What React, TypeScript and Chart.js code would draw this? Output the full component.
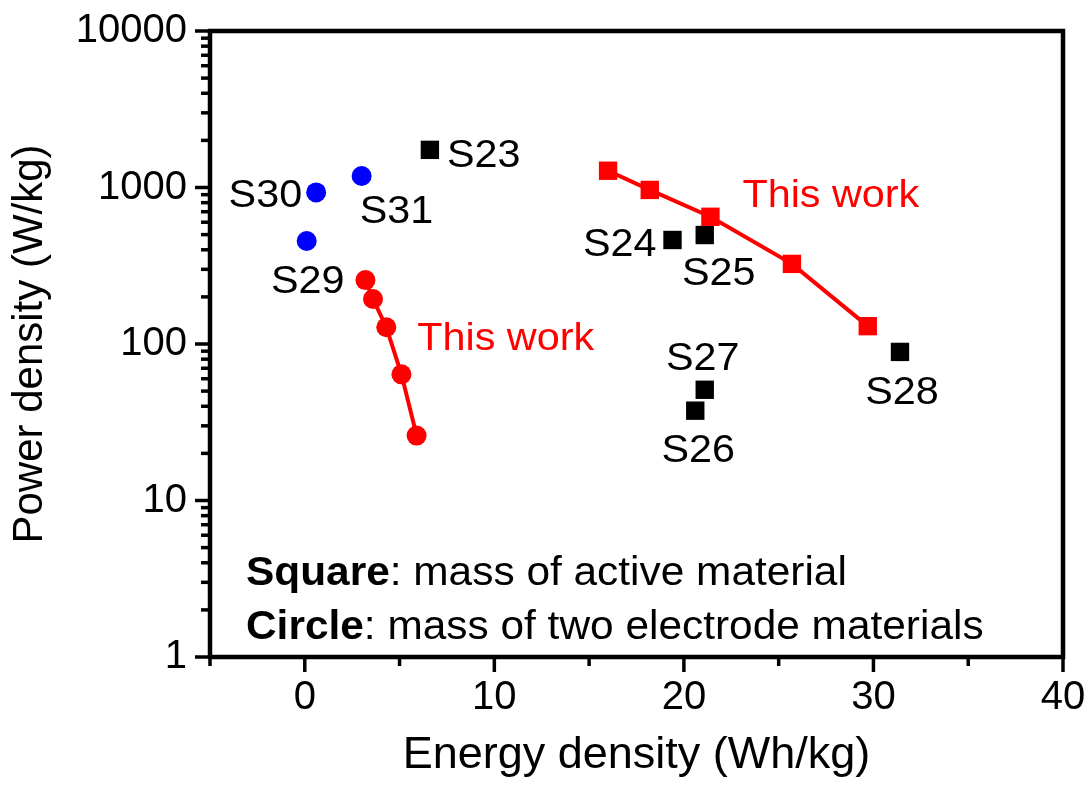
import React, { useEffect, useRef } from 'react';
import { Chart, registerables } from 'chart.js';

Chart.register(...registerables);

const RED = '#ff0000';
const BLUE = '#0000ff';
const BLACK = '#000000';
const FONT = '"Liberation Sans", Arial, Helvetica, sans-serif';

// This work – squares (mass of active material)
const workSquareEnergy = [16.0, 18.2, 21.4, 25.7, 29.7];
const workSquarePower = [1280, 965, 650, 325, 130];
// This work – circles (mass of two electrode materials)
const workCircleEnergy = [3.2, 3.6, 4.3, 5.1, 5.9];
const workCirclePower = [256, 194, 128, 64, 26];
// Literature – squares
const refSquareNames = ['S23', 'S24', 'S25', 'S26', 'S27', 'S28'];
const refSquareEnergy = [6.6, 19.4, 21.1, 20.6, 21.1, 31.4];
const refSquarePower = [1740, 462, 497, 37.5, 51, 89];
// Literature – circles
const refCircleNames = ['S29', 'S30', 'S31'];
const refCircleEnergy = [0.1, 0.6, 3.0];
const refCirclePower = [455, 930, 1185];

const xTickValues = [-5, 0, 5, 10, 15, 20, 25, 30, 35, 40];
const xLabelledTicks = [0, 10, 20, 30, 40];
const yDecades = [1, 10, 100, 1000, 10000];
const yMinorFactors = [2, 3, 4, 5, 6, 7, 8, 9];

const xTitle = 'Energy density (Wh/kg)';
const yTitle = 'Power density (W/kg)';
const workLabel = 'This work';
const noteBold = ['Square', 'Circle'];
const noteRest = [': mass of active material', ': mass of two electrode materials'];

// label placement (pixel offsets from the point, cap-centre)
const labelPlacement: Record<string, { align: CanvasTextAlign; dx: number; dy: number }> = {
  S23: { align: 'left', dx: 17, dy: 3 },
  S24: { align: 'right', dx: -16, dy: 2 },
  S25: { align: 'center', dx: 14, dy: 36 },
  S26: { align: 'center', dx: 3, dy: 37 },
  S27: { align: 'center', dx: -2, dy: -34 },
  S28: { align: 'center', dx: 2, dy: 38 },
  S29: { align: 'center', dx: 1, dy: 38 },
  S30: { align: 'right', dx: -14, dy: 1 },
  S31: { align: 'left', dx: -2, dy: 33 },
};

const STRETCH = 1.06;
const isPow10 = (v: number) => {
  const l = Math.log10(v);
  return Math.abs(l - Math.round(l)) < 1e-9;
};

function drawText(
  ctx: CanvasRenderingContext2D,
  text: string,
  x: number,
  capCenterY: number,
  size: number,
  align: CanvasTextAlign,
  weight = 'normal',
  color = BLACK
) {
  ctx.save();
  ctx.font = `${weight} ${size}px ${FONT}`;
  ctx.fillStyle = color;
  ctx.textAlign = align;
  ctx.textBaseline = 'alphabetic';
  ctx.translate(x, capCenterY + 0.358 * size);
  ctx.scale(STRETCH, 1);
  ctx.fillText(text, 0, 0);
  ctx.restore();
}

const decorPlugin = {
  id: 'decor',
  afterDraw(chart: any) {
    const { ctx, chartArea: a, scales } = chart;
    const xs = scales.x;
    const ys = scales.y;
    ctx.save();
    ctx.strokeStyle = BLACK;
    ctx.lineCap = 'butt';
    ctx.lineWidth = 3.5;
    // y tick marks
    ys.ticks.forEach((t: any) => {
      const p = ys.getPixelForValue(t.value);
      const len = isPow10(t.value) ? 15 : 9;
      ctx.beginPath();
      ctx.moveTo(a.left, p);
      ctx.lineTo(a.left - len, p);
      ctx.stroke();
    });
    // x tick marks
    xs.ticks.forEach((t: any) => {
      const p = xs.getPixelForValue(t.value);
      const len = xLabelledTicks.includes(t.value) ? 15 : 9;
      ctx.beginPath();
      ctx.moveTo(p, a.bottom);
      ctx.lineTo(p, a.bottom + len);
      ctx.stroke();
    });
    // frame
    ctx.lineWidth = 4.5;
    ctx.lineJoin = 'miter';
    ctx.strokeRect(a.left, a.top, a.right - a.left, a.bottom - a.top);
    ctx.restore();

    // point labels
    const sqMeta = chart.getDatasetMeta(2);
    refSquareNames.forEach((name, i) => {
      const el = sqMeta.data[i];
      const pl = labelPlacement[name];
      drawText(ctx, name, el.x + pl.dx, el.y + pl.dy, 39, pl.align);
    });
    const ciMeta = chart.getDatasetMeta(3);
    refCircleNames.forEach((name, i) => {
      const el = ciMeta.data[i];
      const pl = labelPlacement[name];
      drawText(ctx, name, el.x + pl.dx, el.y + pl.dy, 39, pl.align);
    });
    // "This work" labels
    const ws = chart.getDatasetMeta(0).data[2];
    drawText(ctx, workLabel, ws.x + 32, ws.y - 24, 39, 'left', 'normal', RED);
    const wc = chart.getDatasetMeta(1).data[2];
    drawText(ctx, workLabel, wc.x + 31, wc.y + 9, 39, 'left', 'normal', RED);

    // note lines
    const noteSize = 40;
    const noteY = [a.bottom - 86, a.bottom - 32];
    noteBold.forEach((b, i) => {
      const x0 = a.left + 36;
      drawText(ctx, b, x0, noteY[i], noteSize, 'left', 'bold');
      ctx.save();
      ctx.font = `bold ${noteSize}px ${FONT}`;
      const w = ctx.measureText(b).width * STRETCH;
      ctx.restore();
      drawText(ctx, noteRest[i], x0 + w, noteY[i], noteSize, 'left');
    });
  },
};

export default function App() {
  const ref = useRef<HTMLCanvasElement>(null);

  useEffect(() => {
    const canvas = ref.current;
    if (!canvas) return;

    const pts = (xs: number[], ys: number[]) => xs.map((x, i) => ({ x, y: ys[i] }));

    const chart = new Chart(canvas, {
      type: 'scatter',
      data: {
        datasets: [
          {
            label: 'This work (square)',
            data: pts(workSquareEnergy, workSquarePower),
            showLine: true,
            borderColor: RED,
            backgroundColor: RED,
            borderWidth: 4,
            pointStyle: 'rect',
            pointRadius: 13,
            pointBorderWidth: 0,
            pointBackgroundColor: RED,
          },
          {
            label: 'This work (circle)',
            data: pts(workCircleEnergy, workCirclePower),
            showLine: true,
            borderColor: RED,
            backgroundColor: RED,
            borderWidth: 4,
            pointStyle: 'circle',
            pointRadius: 10,
            pointBorderWidth: 0,
            pointBackgroundColor: RED,
          },
          {
            label: 'Literature (square)',
            data: pts(refSquareEnergy, refSquarePower),
            showLine: false,
            pointStyle: 'rect',
            pointRadius: 13,
            pointBorderWidth: 0,
            pointBackgroundColor: BLACK,
            backgroundColor: BLACK,
            borderColor: BLACK,
          },
          {
            label: 'Literature (circle)',
            data: pts(refCircleEnergy, refCirclePower),
            showLine: false,
            pointStyle: 'circle',
            pointRadius: 10,
            pointBorderWidth: 0,
            pointBackgroundColor: BLUE,
            backgroundColor: BLUE,
            borderColor: BLUE,
          },
        ],
      },
      options: {
        animation: false,
        responsive: false,
        events: [],
        layout: { padding: { top: 31, right: 28, left: 0, bottom: 0 } },
        plugins: { legend: { display: false }, tooltip: { enabled: false } },
        scales: {
          x: {
            type: 'linear',
            min: -5,
            max: 40,
            grid: { display: false, drawTicks: false },
            border: { display: false },
            afterBuildTicks: (s: any) => {
              s.ticks = xTickValues.map((v) => ({ value: v }));
            },
            afterFit: (s: any) => {
              s.height = 130;
              s.paddingLeft = 0;
              s.paddingRight = 0;
            },
            ticks: {
              autoSkip: false,
              maxRotation: 0,
              padding: 17,
              color: BLACK,
              font: { family: FONT, size: 40 },
              callback: (v: any) => (xLabelledTicks.includes(Number(v)) ? String(v) : ''),
            },
            title: {
              display: true,
              text: xTitle,
              color: BLACK,
              font: { family: FONT, size: 45 },
              padding: { top: 0, bottom: 4 },
            },
          },
          y: {
            type: 'logarithmic',
            min: 1,
            max: 10000,
            grid: { display: false, drawTicks: false },
            border: { display: false },
            afterBuildTicks: (s: any) => {
              const vals: number[] = [];
              yDecades.forEach((d, i) => {
                vals.push(d);
                if (i < yDecades.length - 1) yMinorFactors.forEach((f) => vals.push(f * d));
              });
              s.ticks = vals.map((v) => ({ value: v }));
            },
            afterFit: (s: any) => {
              s.width = 210;
              s.paddingTop = 0;
              s.paddingBottom = 0;
            },
            ticks: {
              autoSkip: false,
              padding: 23,
              color: BLACK,
              font: { family: FONT, size: 40 },
              callback: (v: any) => (isPow10(Number(v)) ? String(v) : ''),
            },
            title: {
              display: true,
              text: yTitle,
              color: BLACK,
              font: { family: FONT, size: 42 },
              padding: { top: 5, bottom: 0 },
            },
          },
        },
      },
      plugins: [decorPlugin],
    } as any);

    return () => chart.destroy();
  }, []);

  return (
    <canvas
      ref={ref}
      width={1091}
      height={787}
      style={{ position: 'fixed', left: 0, top: 0, display: 'block', background: '#fff' }}
    />
  );
}
